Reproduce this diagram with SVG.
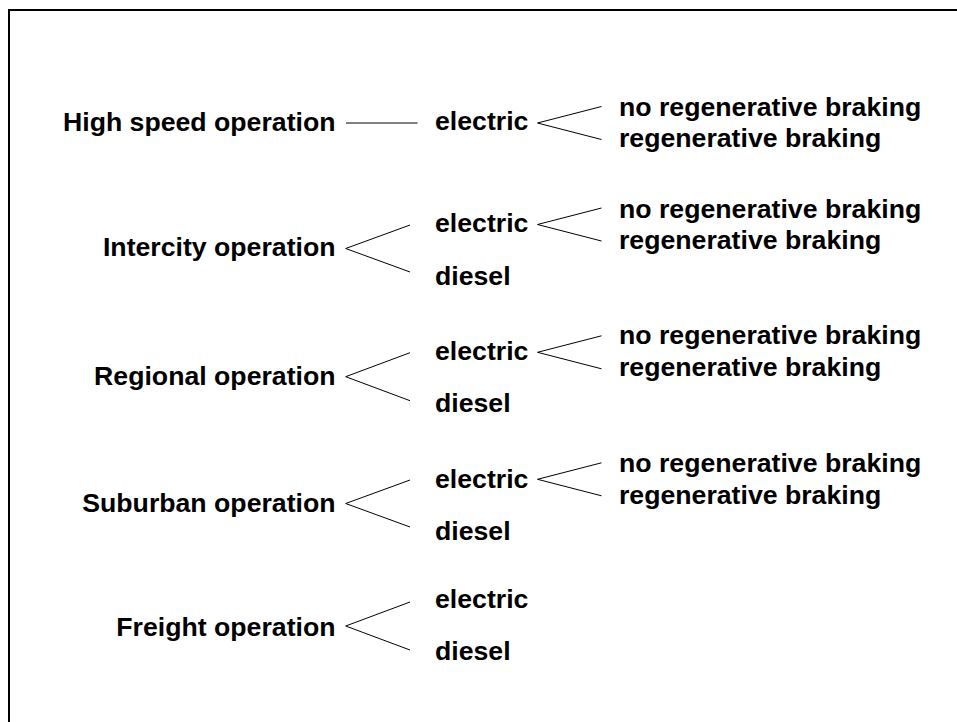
<svg xmlns="http://www.w3.org/2000/svg" width="957" height="722" viewBox="0 0 957 722">
<style>
text{font-family:"Liberation Sans",Arial,sans-serif;font-weight:bold;font-size:26.67px;fill:#000}
.l{text-anchor:end}
.c line,.c polyline{stroke:#000;stroke-width:1;fill:none}
.c .g{stroke:#808080;stroke-width:2}
</style>
<rect width="957" height="722" fill="#fff"/>
<path d="M9,725 V10 H960" fill="none" stroke="#000" stroke-width="2"/>
<g id="n-high"><text class="l" x="335.5" y="130.5">High speed operation</text></g>
<g id="n-high-el"><text x="435" y="130">electric</text></g>
<g id="n-high-nr"><text x="619" y="115.5">no regenerative braking</text></g>
<g id="n-high-r"><text x="619" y="147">regenerative braking</text></g>

<g id="n-ic"><text class="l" x="335.5" y="256">Intercity operation</text></g>
<g id="n-ic-el"><text x="435" y="232">electric</text></g>
<g id="n-ic-di"><text x="435" y="285">diesel</text></g>
<g id="n-ic-nr"><text x="619" y="217.5">no regenerative braking</text></g>
<g id="n-ic-r"><text x="619" y="249">regenerative braking</text></g>

<g id="n-reg"><text class="l" x="335.5" y="384.5">Regional operation</text></g>
<g id="n-reg-el"><text x="435" y="359.5">electric</text></g>
<g id="n-reg-di"><text x="435" y="412">diesel</text></g>
<g id="n-reg-nr"><text x="619" y="344">no regenerative braking</text></g>
<g id="n-reg-r"><text x="619" y="376">regenerative braking</text></g>

<g id="n-sub"><text class="l" x="335.5" y="512">Suburban operation</text></g>
<g id="n-sub-el"><text x="435" y="487.5">electric</text></g>
<g id="n-sub-di"><text x="435" y="540">diesel</text></g>
<g id="n-sub-nr"><text x="619" y="471.5">no regenerative braking</text></g>
<g id="n-sub-r"><text x="619" y="503.5">regenerative braking</text></g>

<g id="n-fr"><text class="l" x="335.5" y="635.5">Freight operation</text></g>
<g id="n-fr-el"><text x="435" y="608">electric</text></g>
<g id="n-fr-di"><text x="435" y="659.5">diesel</text></g>

<g id="connectors" class="c">
<line class="g" x1="346" y1="123" x2="417.5" y2="123"/>
<polyline points="601.5,106.5 537.5,123 601.5,139.5"/>
<polyline points="410,225 345.7,248.5 410,272"/>
<polyline points="601.5,208 537.5,224.5 601.5,241"/>
<polyline points="410,352.7 345.7,376.7 410,400.7"/>
<polyline points="601.5,335.8 537.5,352.3 601.5,368.8"/>
<polyline points="410,480 345.7,503.5 410,527"/>
<polyline points="601.5,462.8 537.5,479.3 601.5,495.8"/>
<polyline points="410,602 345.7,626 410,650"/>
</g>
</svg>
